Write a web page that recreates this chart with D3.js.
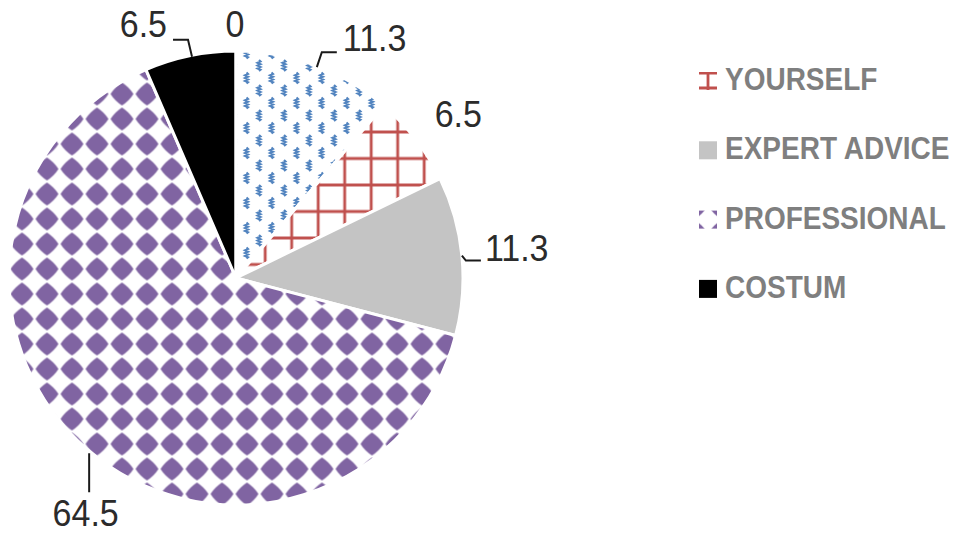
<!DOCTYPE html>
<html>
<head>
<meta charset="utf-8">
<script src="https://cdn.jsdelivr.net/npm/d3@7"></script>
<style>
  html, body { margin: 0; padding: 0; background: #ffffff; }
  svg { display: block; }
</style>
</head>
<body>
<svg id="chart" width="960" height="533"></svg>
<script>
// Slice values, clockwise from twelve o'clock
const sliceKeys = ["OTHER", "YOURSELF", "EXPERT ADVICE", "PROFESSIONAL", "COSTUM", "NONE"];
const values = [11.3, 6.5, 11.3, 64.5, 6.5, 0];
// Entries listed in the key
const legendItems = ["YOURSELF", "EXPERT ADVICE", "PROFESSIONAL", "COSTUM"];

// Layout and styling
const W = 960, H = 533;
const cx = 236, cy = 278, R = 227;
const fills = {
  "OTHER": "url(#pat-waves)",
  "YOURSELF": "url(#pat-grid)",
  "EXPERT ADVICE": "#c4c4c4",
  "PROFESSIONAL": "url(#pat-diamond)",
  "COSTUM": "#000000",
  "NONE": "#ffffff"
};
// Label placement relative to the point where each slice's mid-angle meets the rim
const labelLayout = [
  { leader: [[2, 2], [7, -13], [22, -13]], tx: 28, ty: -14, anchor: "start" },
  { leader: null, tx: 19, ty: -12, anchor: "start" },
  { leader: [[0, 0], [4, 5], [19, 5]], tx: 23, ty: 5, anchor: "start" },
  { leader: [[1, 3], [1, 42]], tx: -2.5, ty: 76, anchor: "middle" },
  { leader: [[2, 1], [-2, -16], [-17, -16]], tx: -23, ty: -19, anchor: "end" },
  { leader: null, tx: -1, ty: -14, anchor: "middle" }
];

const svg = d3.select("#chart");
const defs = svg.append("defs");

// Pattern builders; (ox, oy) is the tile origin in the referencing element's space
function wavesPattern(id, ox, oy) {
  const p = defs.append("pattern").attr("id", id)
    .attr("patternUnits", "userSpaceOnUse")
    .attr("x", ox).attr("y", oy).attr("width", 25).attr("height", 25);
  p.append("rect").attr("width", 25).attr("height", 25).attr("fill", "#ffffff");
  const zig = "M0,0 L1.5,1.4 L-1.5,2.8 L1.5,4.2 L-1.5,5.6 L1.5,7 L-1.5,8.4 L1.5,9.8 L0,11";
  [[6, 2], [18.5, 14.5], [18.5, -10.5], [6, 27]].forEach(([x, y]) => {
    p.append("path").attr("d", zig).attr("transform", `translate(${x},${y})`)
      .attr("fill", "none").attr("stroke", "#3f77b8").attr("stroke-width", 2.1)
      .attr("stroke-opacity", 0.9);
  });
}
function gridPattern(id, ox, oy, size) {
  const p = defs.append("pattern").attr("id", id)
    .attr("patternUnits", "userSpaceOnUse")
    .attr("x", ox).attr("y", oy).attr("width", size).attr("height", size);
  p.append("rect").attr("width", size).attr("height", size).attr("fill", "#ffffff");
  p.append("path").attr("d", `M0,0 V${size} M${size},0 V${size} M0,0 H${size} M0,${size} H${size}`)
    .attr("stroke", "#c0504d").attr("stroke-width", 2.8).attr("fill", "none");
}
function diamondPattern(id, ox, oy) {
  const p = defs.append("pattern").attr("id", id)
    .attr("patternUnits", "userSpaceOnUse")
    .attr("x", ox).attr("y", oy).attr("width", 25).attr("height", 25);
  p.append("rect").attr("width", 25).attr("height", 25).attr("fill", "#ffffff");
  p.append("path")
    .attr("d", "M12.5,1 Q19.5,5.5 24,12.5 Q19.5,19.5 12.5,24 Q5.5,19.5 1,12.5 Q5.5,5.5 12.5,1 Z")
    .attr("fill", "#8064a2");
}

// Slice patterns, aligned to page coordinates (pie group is translated to its centre)
wavesPattern("pat-waves", 3 - cx, 8 - cy);
gridPattern("pat-grid", 0.2 - cx, -0.5 - cy, 26.5);
diamondPattern("pat-diamond", 9.5 - cx, 6.5 - cy);

// Pie
const pie = d3.pie().sort(null).value(d => d).startAngle(0).endAngle(2 * Math.PI);
const arcs = pie(values);
const arc = d3.arc().innerRadius(0).outerRadius(R);

const g = svg.append("g").attr("transform", `translate(${cx},${cy})`);
g.selectAll("path.slice")
  .data(arcs)
  .join("path")
  .attr("class", "slice")
  .attr("d", arc)
  .attr("fill", (d, i) => fills[sliceKeys[i]])
  .attr("stroke", "#ffffff")
  .attr("stroke-width", 3)
  .attr("stroke-linejoin", "round");

// Value labels with leader lines
const labelsG = svg.append("g");
arcs.forEach((d, i) => {
  const mid = (d.startAngle + d.endAngle) / 2;
  const ax = cx + R * Math.sin(mid);
  const ay = cy - R * Math.cos(mid);
  const L = labelLayout[i];
  if (L.leader) {
    labelsG.append("path")
      .attr("d", d3.line()(L.leader.map(([dx, dy]) => [ax + dx, ay + dy])))
      .attr("fill", "none")
      .attr("stroke", "#1a1a1a")
      .attr("stroke-width", 2);
  }
  labelsG.append("text")
    .attr("transform", `translate(${ax + L.tx},${ay + L.ty}) scale(1,1.08)`)
    .attr("text-anchor", L.anchor)
    .attr("font-family", "'Liberation Sans', Arial, sans-serif")
    .attr("font-size", 34)
    .attr("fill", "#2b2b2b")
    .text(d3.format("")(values[i]));
});

// Key
const keyX = 699, keyText = 725, keyBase = 90, keyStep = 69.3, keySize = 18;
gridPattern("key-grid", keyX - 6, keyBase - keySize + 1, 15);
diamondPattern("key-diamond", keyX + keySize / 2 - 25, keyBase + keyStep * 2 - keySize / 2 - 25);
const keyFills = {
  "YOURSELF": "url(#key-grid)",
  "EXPERT ADVICE": "#c4c4c4",
  "PROFESSIONAL": "url(#key-diamond)",
  "COSTUM": "#000000"
};
const legend = svg.append("g");
legendItems.forEach((name, i) => {
  const base = keyBase + i * keyStep;
  legend.append("rect")
    .attr("x", keyX).attr("y", base - keySize)
    .attr("width", keySize).attr("height", keySize)
    .attr("fill", keyFills[name]);
  legend.append("text")
    .attr("transform", `translate(${keyText},${base}) scale(1,1.1)`)
    .attr("font-family", "'Liberation Sans', Arial, sans-serif")
    .attr("font-weight", "bold")
    .attr("font-size", 28)
    .attr("fill", "#7f7f7f")
    .text(name);
});
</script>
</body>
</html>
